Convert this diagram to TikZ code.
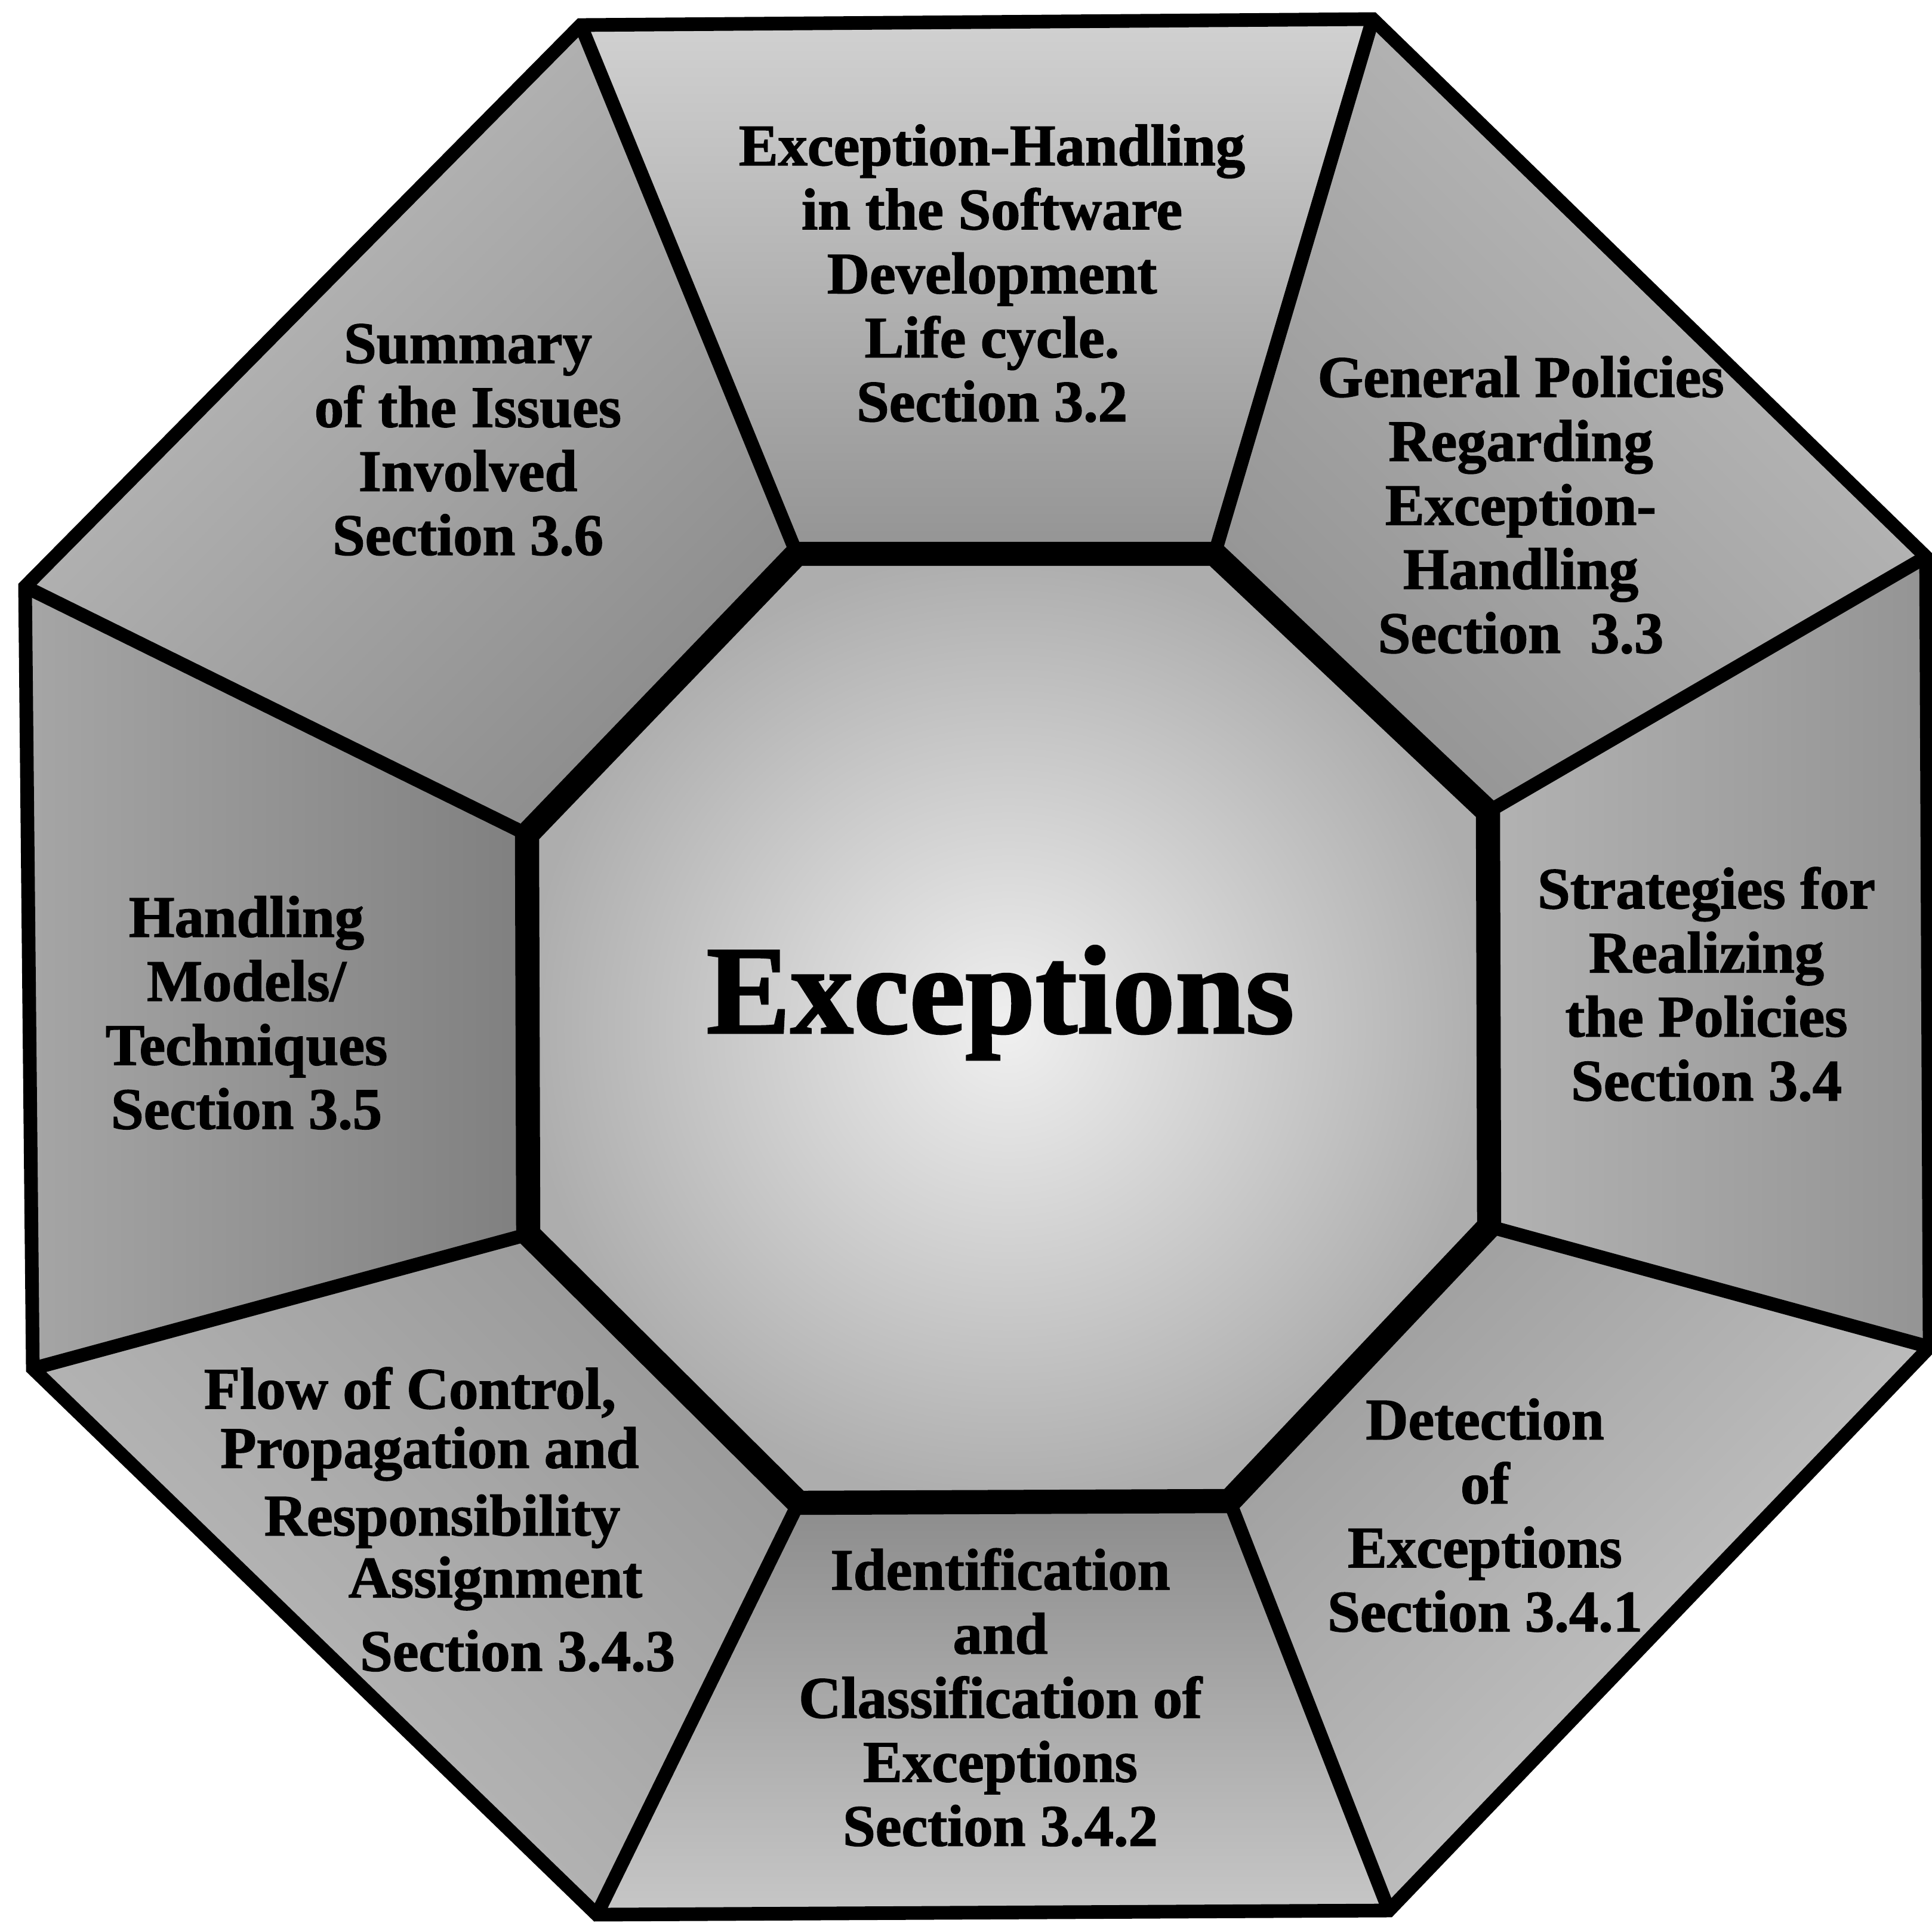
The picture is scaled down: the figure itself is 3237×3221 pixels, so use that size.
\documentclass[tikz,border=0pt]{standalone}
\usepackage{fontspec}
\setmainfont{Liberation Serif}[BoldFeatures={FakeBold=1.5}]
\begin{document}
\begin{tikzpicture}[x=0.01cm,y=-0.01cm,
  outerline/.style={line width=6.5pt, line join=miter},
  spoke/.style={line width=6.5pt},
  innerline/.style={line width=11.5pt, line join=miter},
  lbl/.style={font=\fontsize{28}{30.5}\selectfont\bfseries, align=center, inner sep=0pt},
  ctr/.style={font=\fontsize{60}{64}\selectfont\bfseries, inner sep=0pt}]
\useasboundingbox (0,0) rectangle (3237,3221);
% outer vertices
\coordinate (A1) at (973,42);
\coordinate (A2) at (2300,32);
\coordinate (A3) at (3227,933);
\coordinate (A4) at (3233,2257);
\coordinate (A5) at (2327,3201);
\coordinate (A6) at (1000,3208);
\coordinate (A7) at (55,2293);
\coordinate (A8) at (42,983);
% inner vertices
\coordinate (B1) at (1335,928);
\coordinate (B2) at (2035,928);
\coordinate (B3) at (2493,1360);
\coordinate (B4) at (2495,2055);
\coordinate (B5) at (2060,2515);
\coordinate (B6) at (1338,2518);
\coordinate (B7) at (885,2068);
\coordinate (B8) at (883,1398);
% segment fills
\shade[top color=black!18, bottom color=black!42, shading angle=0] (A1)--(A2)--(B2)--(B1)--cycle;
\shade[top color=black!25, bottom color=black!42, shading angle=-45] (A2)--(A3)--(B3)--(B2)--cycle;
\shade[top color=black!42, bottom color=black!30, shading angle=-90] (A3)--(A4)--(B4)--(B3)--cycle;
\shade[top color=black!20, bottom color=black!38, shading angle=-135] (A4)--(A5)--(B5)--(B4)--cycle;
\shade[top color=black!22, bottom color=black!45, shading angle=180] (A5)--(A6)--(B6)--(B5)--cycle;
\shade[top color=black!25, bottom color=black!40, shading angle=135] (A6)--(A7)--(B7)--(B6)--cycle;
\shade[top color=black!35, bottom color=black!50, shading angle=90] (A7)--(A8)--(B8)--(B7)--cycle;
\shade[top color=black!25, bottom color=black!45, shading angle=45] (A8)--(A1)--(B1)--(B8)--cycle;
% centre fill
\shade[inner color=black!6, outer color=black!32] (B1)--(B2)--(B3)--(B4)--(B5)--(B6)--(B7)--(B8)--cycle;
% spokes
\draw[spoke] (B1) -- (A1);
\draw[spoke] (B2) -- (A2);
\draw[spoke] (B3) -- (A3);
\draw[spoke] (B4) -- (A4);
\draw[spoke] (B5) -- (A5);
\draw[spoke] (B6) -- (A6);
\draw[spoke] (B7) -- (A7);
\draw[spoke] (B8) -- (A8);
% octagons
\draw[innerline] (B1)--(B2)--(B3)--(B4)--(B5)--(B6)--(B7)--(B8)--cycle;
\draw[outerline] (A1)--(A2)--(A3)--(A4)--(A5)--(A6)--(A7)--(A8)--cycle;
% labels
\node[ctr] (exc) at (1676,1680) {Exceptions};
\node[lbl] (s32) at (1662,458) {Exception-Handling\\in the Software\\Development\\Life cycle.\\Section 3.2};
\node[lbl] (s36) at (784,737) {Summary\\of the Issues\\Involved\\Section 3.6};
\node[lbl] (s33) at (2548,846) {General Policies\\Regarding\\Exception-\\Handling\\Section\ \ 3.3};
\node[lbl] (s34) at (2859,1649) {Strategies for\\Realizing\\the Policies\\Section 3.4};
\node[lbl] (s35) at (413,1697) {Handling\\Models/\\Techniques\\Section 3.5};
\node[lbl] (f1) at (687,2333) {Flow of Control,};
\node[lbl] (f2) at (720,2436) {Propagation and};
\node[lbl] (f3) at (741,2549) {Responsibility};
\node[lbl] (f4) at (830,2653) {Assignment};
\node[lbl] (f5) at (867,2766) {Section 3.4.3};
\node[lbl] (s342) at (1676,2844) {Identification\\and\\Classification of\\Exceptions\\Section 3.4.2};
\node[lbl] (s341) at (2488,2539) {Detection\\of\\Exceptions\\Section 3.4.1};
\end{tikzpicture}
\end{document}
